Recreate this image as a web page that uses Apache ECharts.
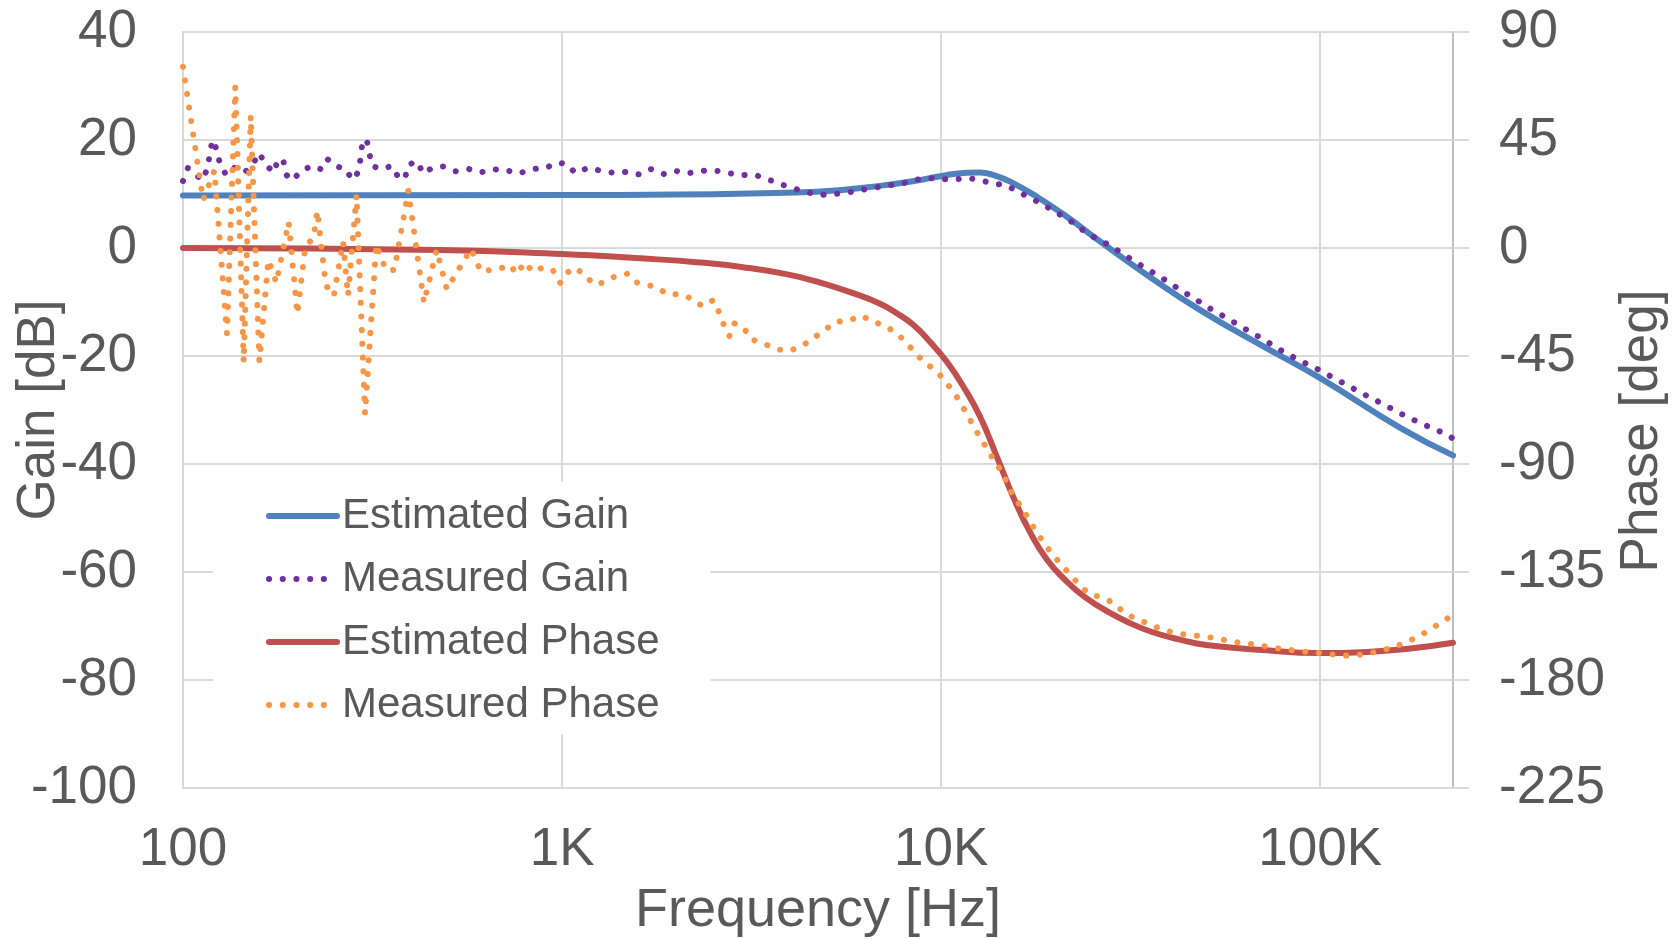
<!DOCTYPE html>
<html>
<head>
<meta charset="utf-8">
<title>Estimated vs measured Bode plot</title>
<script src="https://cdn.jsdelivr.net/npm/echarts@6.0.0/dist/echarts.min.js"></script>
<style>
	html, body { margin: 0; padding: 0; background: #fff; }
	#chart { width: 1677px; height: 939px; }
</style>
</head>
<body>
<div id="chart"></div>
<script>
const legendNames = ['Estimated Gain', 'Measured Gain', 'Estimated Phase', 'Measured Phase'];
const xTickValues = [100, 1000, 10000, 100000];
const xTickLabels = ['100', '1K', '10K', '100K'];
const freqMin = 100;
const freqMax = 224000;

const estGainFreq = [100, 1000, 2000, 3133, 4699, 7044, 8628, 9940, 11690, 12670, 13880, 15210, 17880, 21460, 26270, 35600, 48250, 69450, 100000, 162600, 224000];
const estGainDb = [9.7, 9.8, 9.9, 10.1, 10.4, 11.6, 12.5, 13.3, 13.95, 14.0, 13.4, 12.3, 9.5, 5.8, 1.2, -5.4, -11.5, -17.9, -24.1, -33.3, -38.4];

const measGainFreq = [100, 103, 107, 113, 116, 119.5, 123, 125, 130, 137, 145.5, 153, 159, 165, 174, 178, 184, 187, 194, 204, 218, 231, 240, 254, 268, 280, 291, 297, 305, 310, 315, 335, 355, 370, 385, 392, 413, 431, 453, 488, 524, 569, 611, 655, 712, 769, 832, 904, 970, 1025, 1084, 1167, 1268, 1372, 1487, 1603, 1717, 1855, 1987, 2141, 2327, 2518, 2725, 2962, 3205, 3468, 3745, 4046, 4395, 4757, 5178, 5614, 6087, 6617, 7174, 7780, 8435, 9146, 9897, 10737, 11641, 12621, 13688, 14820, 15937, 17172, 18508, 19877, 21281, 22882, 24322, 26161, 28202, 30214, 32359, 34746, 37309, 40033, 42911, 46148, 49420, 53170, 57089, 61411, 65878, 70874, 75952, 81846, 88036, 94690, 102020, 109750, 118070, 126990, 136570, 147270, 158430, 170700, 183940, 198700, 214640, 224000];
const measGainDb = [12.4, 14.8, 13.7, 12.6, 14.9, 20.0, 18.1, 15.7, 13.5, 14.9, 14.0, 15.6, 17.6, 15.4, 14.0, 16.5, 16.1, 13.6, 12.5, 14.1, 15.2, 14.6, 16.5, 15.1, 14.7, 12.6, 14.2, 19.2, 20.2, 17.6, 15.2, 14.6, 15.2, 13.1, 12.8, 15.3, 16.1, 13.8, 14.8, 15.1, 14.2, 14.6, 14.0, 14.6, 14.4, 13.8, 14.6, 14.8, 15.8, 15.6, 13.9, 14.8, 14.3, 13.9, 14.1, 13.6, 14.6, 13.7, 14.3, 13.8, 14.3, 14.4, 13.9, 13.5, 13.6, 12.8, 11.9, 11.1, 10.4, 9.8, 10.0, 10.2, 10.7, 11.1, 11.6, 11.8, 12.5, 13.0, 12.8, 12.6, 13.0, 12.6, 11.9, 11.7, 10.4, 9.3, 8.1, 6.85, 5.55, 4.2, 2.5, 1.6, 0.2, -1.1, -2.5, -3.8, -5.1, -6.4, -7.9, -9.1, -10.6, -11.85, -13.1, -14.4, -15.7, -16.9, -18.3, -19.6, -20.8, -21.85, -23.0, -24.3, -25.4, -26.7, -27.8, -29.0, -30.2, -31.4, -32.4, -33.5, -34.4, -35.3];

const estPhaseFreq = [100, 476, 1000, 1606, 2300, 3000, 3900, 4700, 5750, 6900, 7640, 8453, 9354, 10350, 11450, 12670, 14030, 15520, 17170, 19000, 21460, 24000, 27500, 31530, 36000, 42710, 50000, 72340, 98000, 132800, 224000];
const estPhaseDeg = [0, -0.8, -2.5, -4.3, -6.0, -8.0, -10.9, -14.0, -18.4, -23.2, -27.2, -32.1, -39.2, -47.4, -57.8, -70.3, -87.0, -104.0, -118.5, -129.8, -139.0, -145.6, -151.5, -156.3, -160.0, -163.2, -165.4, -167.6, -168.8, -168.3, -164.5];

const measPhaseFreq = [100, 113, 121, 130.6, 137.4, 144.6, 150.9, 159, 168, 176.3, 190, 200.3, 210.2, 220.8, 226.1, 238, 249.8, 264.4, 272.5, 287, 302.1, 323.6, 343, 361, 393, 432.4, 467, 496.4, 575, 610, 644, 679, 726, 762, 795, 840, 892, 948, 988, 1025, 1071, 1145, 1209, 1285, 1372, 1487, 1568, 1680, 1784, 1892, 2051, 2213, 2341, 2507, 2596, 2672, 2763, 2849, 3016, 3147, 3397, 3670, 3979, 4298, 4604, 4922, 5261, 5692, 6162, 6617, 7129, 7652, 8121, 8555, 9093, 9741, 10250, 10780, 11290, 11760, 12240, 12750, 13330, 13880, 14600, 14990, 15610, 16430, 17110, 17880, 18730, 19710, 20810, 21980, 23270, 24630, 26710, 28730, 30450, 32840, 35440, 38300, 41510, 45030, 49030, 53170, 57780, 62630, 67910, 73790, 80050, 86980, 94500, 102650, 111350, 120930, 131440, 142840, 154880, 166940, 180300, 193970, 207700, 224000];
const measPhaseDeg = [75.5, 20.0, 32.2, -35.7, 67.2, -47.5, 55.1, -47.2, -5.0, -14.5, 10.8, -27.5, 0.5, 4.3, 15.5, -15.4, -20.0, 2.6, -19.9, 22.0, -69.0, 1.5, -9.2, -9.2, 23.9, -22.8, -0.8, -17.2, -0.3, -9.7, -9.2, -8.9, -7.0, -10.8, -6.0, -10.0, -8.0, -9.5, -14.5, -10.7, -8.2, -10.8, -15.1, -14.5, -12.0, -10.7, -14.3, -15.4, -16.5, -19.2, -19.3, -21.3, -24.2, -21.7, -26.8, -32.1, -36.7, -31.4, -33.2, -38.0, -39.7, -42.2, -42.9, -40.8, -37.6, -34.3, -30.8, -30.3, -28.2, -30.7, -32.5, -35.7, -39.7, -43.9, -48.0, -51.3, -55.6, -59.9, -64.9, -69.9, -74.9, -79.7, -84.6, -89.5, -93.9, -99.2, -104.0, -108.8, -113.8, -118.5, -123.3, -127.9, -132.1, -136.4, -140.7, -144.3, -145.6, -148.3, -152.2, -154.6, -156.8, -159.0, -160.5, -161.3, -161.8, -162.6, -163.8, -164.7, -165.3, -166.3, -167.2, -167.8, -168.5, -169.0, -169.7, -169.9, -169.2, -168.0, -166.5, -164.6, -162.1, -159.3, -156.1, -153.0];

const textColor = '#595959';
const gridColor = '#D9D9D9';
const dots = [0.1, 13.6];

const pairs = (xs, ys) => xs.map((x, i) => [x, ys[i]]);

const xLabel = (value) => {
	const i = xTickValues.findIndex((t) => Math.abs(t - value) / t < 1e-6);
	return i < 0 ? '' : xTickLabels[i];
};

const makeSeries = (name, xs, ys, color, yAxisIndex, dotted) => ({
	name,
	type: 'line',
	yAxisIndex,
	data: pairs(xs, ys),
	color,
	symbol: 'none',
	showSymbol: false,
	smooth: dotted ? false : 0.5,
	lineStyle: {
		color,
		width: 6,
		type: dotted ? dots : 'solid',
		cap: 'round',
		join: 'round'
	}
});

const chart = echarts.init(document.getElementById('chart'));
chart.setOption({
	animation: false,
	backgroundColor: '#fff',
	textStyle: { fontFamily: '"Liberation Sans", Arial, sans-serif' },
	grid: { left: 183, right: 224, top: 32, bottom: 151, outerBoundsMode: 'none' },
	legend: {
		orient: 'vertical',
		left: 213,
		top: 482,
		backgroundColor: '#fff',
		padding: [13, 51, 8, 53],
		itemWidth: 68,
		itemHeight: 42,
		itemGap: 21,
		selectedMode: false,
		itemStyle: { opacity: 0 },
		lineStyle: { width: 6, cap: 'round' },
		textStyle: { fontSize: 42, color: textColor },
		data: legendNames
	},
	xAxis: {
		type: 'log',
		logBase: 10,
		min: freqMin,
		max: freqMax,
		name: 'Frequency [Hz]',
		nameLocation: 'middle',
		nameGap: 96,
		nameMoveOverlap: false,
		nameTextStyle: { fontSize: 54, color: textColor },
		axisLine: { onZero: false, lineStyle: { color: gridColor, width: 2 } },
		axisTick: { show: false },
		minorTick: { show: false },
		axisLabel: { fontSize: 53, color: textColor, margin: 36, formatter: xLabel },
		splitLine: { show: true, lineStyle: { color: gridColor, width: 2 } }
	},
	yAxis: [
		{
			type: 'value',
			position: 'left',
			min: -100,
			max: 40,
			interval: 20,
			name: 'Gain [dB]',
			nameLocation: 'middle',
			nameGap: 117,
			nameMoveOverlap: false,
			nameTextStyle: { fontSize: 53, color: textColor },
			axisLine: { show: true, onZero: false, lineStyle: { color: gridColor, width: 2 } },
			axisTick: { show: false },
			axisLabel: { fontSize: 53, color: textColor, margin: 46 },
			splitLine: { show: true, lineStyle: { color: gridColor, width: 2 } }
		},
		{
			type: 'value',
			position: 'right',
			min: -225,
			max: 90,
			interval: 45,
			name: 'Phase [deg]',
			nameLocation: 'middle',
			nameGap: 163,
			nameMoveOverlap: false,
			nameTextStyle: { fontSize: 53, color: textColor, padding: [0, 42, 0, 0] },
			axisLine: { show: true, onZero: false, lineStyle: { color: '#BFBFBF', width: 2 } },
			axisTick: { show: true, length: 16, lineStyle: { color: gridColor, width: 2 } },
			axisLabel: { fontSize: 53, color: textColor, margin: 46 },
			splitLine: { show: false }
		}
	],
	series: [
		makeSeries(legendNames[0], estGainFreq, estGainDb, '#4F81BD', 0, false),
		makeSeries(legendNames[1], measGainFreq, measGainDb, '#7030A0', 0, true),
		makeSeries(legendNames[2], estPhaseFreq, estPhaseDeg, '#C0504D', 1, false),
		makeSeries(legendNames[3], measPhaseFreq, measPhaseDeg, '#F79646', 1, true)
	]
});
</script>
</body>
</html>
